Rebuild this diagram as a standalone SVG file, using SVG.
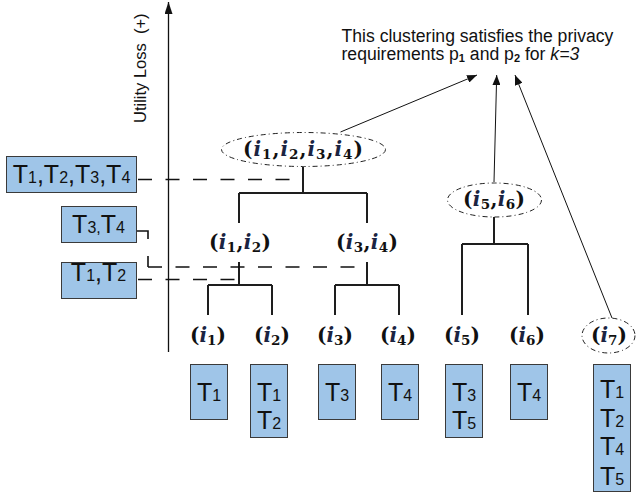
<svg xmlns="http://www.w3.org/2000/svg" width="640" height="497" viewBox="0 0 640 497">
<style>
.box{fill:#9fc5e8;stroke:#3a3a3a;stroke-width:1}
.bt{font-family:"Liberation Sans",Arial,sans-serif;font-size:25px;fill:#111}
.sm{font-size:16px}
.tree{fill:none;stroke:#1e1e1e;stroke-width:2}
.dash{fill:none;stroke:#111;stroke-width:1.6;stroke-dasharray:14 13.5}
.solid{fill:none;stroke:#111;stroke-width:1.6}
.ell{fill:none;stroke:#222;stroke-width:1;stroke-dasharray:5 3 1 3}
.lbl{font-family:"DejaVu Serif","Liberation Serif",serif;font-weight:bold;font-size:20px;fill:#111}
.iv{font-style:italic;fill:#1b2442}
.sb{font-size:13.5px}
.ann{font-family:"Liberation Sans",Arial,sans-serif;fill:#111}
.thin{fill:none;stroke:#111;stroke-width:1}
</style>
<defs>
<marker id="ah" viewBox="0 0 10 8" refX="10" refY="4" markerWidth="10" markerHeight="8" markerUnits="userSpaceOnUse" orient="auto">
<path d="M0,0 L10,4 L0,8 z" fill="#111"/>
</marker>
<marker id="axh" viewBox="0 0 12 8" refX="12" refY="4" markerWidth="12" markerHeight="8" markerUnits="userSpaceOnUse" orient="auto">
<path d="M0,0 L12,4 L0,8 z" fill="#111"/>
</marker>
</defs>
<rect width="640" height="497" fill="#fff"/>

<!-- axis -->
<g id="axis">
<line x1="168.5" y1="352" x2="168.5" y2="2" stroke="#111" stroke-width="1.3" marker-end="url(#axh)"/>
<text class="ann" font-size="16.5" transform="translate(145.5,123) rotate(-90)" xml:space="preserve">Utility Loss  (+)</text>
</g>

<!-- annotation -->
<g id="annotation">
<text class="ann" font-size="17.6" x="341.5" y="41.5">This clustering satisfies the privacy</text>
<text class="ann" font-size="17.6" x="341.5" y="60">requirements p<tspan font-size="11" font-weight="bold" dy="2">1</tspan><tspan dy="-2"> and p</tspan><tspan font-size="11" font-weight="bold" dy="2">2</tspan><tspan dy="-2"> for </tspan><tspan font-style="italic">k=3</tspan></text>
</g>

<!-- connectors -->
<g id="connectors">
<path class="tree" d="M303,167 V193 M239,193 H367 M239,193 V223 M367,193 V223"/>
<path class="tree" d="M239,262 V285 M208,285 H272 M208,285 V315 M272,285 V315"/>
<path class="tree" d="M367,262 V285 M335,285 H399 M335,285 V315 M399,285 V315"/>
<path class="tree" d="M494,217 V244 M462,244 H528 M462,244 V315 M528,244 V315"/>
<path class="dash" d="M138,179.5 H302"/>
<path class="dash" d="M138,279.5 H240"/>
<path class="solid" d="M137,231 H148 V239 M148,256 V267"/>
<path class="dash" stroke-dasharray="15 13" d="M148,267 H367"/>
<line class="thin" x1="340.5" y1="132" x2="477" y2="75" marker-end="url(#ah)"/>
<line class="thin" x1="494" y1="182" x2="496.7" y2="75" marker-end="url(#ah)"/>
<line class="thin" x1="612" y1="318" x2="515" y2="75" marker-end="url(#ah)"/>
</g>

<!-- left boxes -->
<g id="box-t1234">
<rect class="box" x="6.5" y="156.5" width="130" height="36"/>
<text class="bt" x="71.5" y="183" text-anchor="middle">T<tspan class="sm">1</tspan>,T<tspan class="sm">2</tspan>,T<tspan class="sm">3</tspan>,T<tspan class="sm">4</tspan></text>
</g>
<g id="box-t34">
<rect class="box" x="61.5" y="206.5" width="75" height="36"/>
<text class="bt" x="98.5" y="233" text-anchor="middle">T<tspan class="sm">3,</tspan>T<tspan class="sm">4</tspan></text>
</g>
<g id="box-t12">
<rect class="box" x="61.5" y="262.5" width="75" height="36"/>
<text class="bt" x="98.5" y="280.5" text-anchor="middle">T<tspan class="sm">1</tspan>,T<tspan class="sm">2</tspan></text>
</g>

<!-- cluster nodes -->
<g id="node-i1234">
<ellipse class="ell" cx="303.5" cy="149.5" rx="82" ry="17"/>
<text class="lbl" x="303" y="156" text-anchor="middle" textLength="120" lengthAdjust="spacing">(<tspan class="iv">i</tspan><tspan class="sb" dy="3">1</tspan><tspan dy="-3">,</tspan><tspan class="iv">i</tspan><tspan class="sb" dy="3">2</tspan><tspan dy="-3">,</tspan><tspan class="iv">i</tspan><tspan class="sb" dy="3">3</tspan><tspan dy="-3">,</tspan><tspan class="iv">i</tspan><tspan class="sb" dy="3">4</tspan><tspan dy="-3">)</tspan></text>
</g>
<g id="node-i12">
<text class="lbl" x="240" y="249" text-anchor="middle" textLength="62" lengthAdjust="spacing">(<tspan class="iv">i</tspan><tspan class="sb" dy="3">1</tspan><tspan dy="-3">,</tspan><tspan class="iv">i</tspan><tspan class="sb" dy="3">2</tspan><tspan dy="-3">)</tspan></text>
</g>
<g id="node-i34">
<text class="lbl" x="367" y="249" text-anchor="middle" textLength="62" lengthAdjust="spacing">(<tspan class="iv">i</tspan><tspan class="sb" dy="3">3</tspan><tspan dy="-3">,</tspan><tspan class="iv">i</tspan><tspan class="sb" dy="3">4</tspan><tspan dy="-3">)</tspan></text>
</g>
<g id="node-i56">
<ellipse class="ell" cx="494.5" cy="200" rx="47" ry="17"/>
<text class="lbl" x="494" y="206" text-anchor="middle" textLength="62" lengthAdjust="spacing">(<tspan class="iv">i</tspan><tspan class="sb" dy="3">5</tspan><tspan dy="-3">,</tspan><tspan class="iv">i</tspan><tspan class="sb" dy="3">6</tspan><tspan dy="-3">)</tspan></text>
</g>

<!-- leaves -->
<g id="leaf-i1">
<text class="lbl" x="208" y="342" text-anchor="middle">(<tspan class="iv">i</tspan><tspan class="sb" dy="3">1</tspan><tspan dy="-3">)</tspan></text>
<rect class="box" x="190.5" y="364.5" width="37" height="55"/>
<text class="bt" x="209" y="401" text-anchor="middle">T<tspan class="sm">1</tspan></text>
</g>
<g id="leaf-i2">
<text class="lbl" x="272" y="342" text-anchor="middle">(<tspan class="iv">i</tspan><tspan class="sb" dy="3">2</tspan><tspan dy="-3">)</tspan></text>
<rect class="box" x="250.5" y="364.5" width="37" height="73"/>
<text class="bt" x="269" y="401" text-anchor="middle">T<tspan class="sm">1</tspan></text>
<text class="bt" x="269" y="429" text-anchor="middle">T<tspan class="sm">2</tspan></text>
</g>
<g id="leaf-i3">
<text class="lbl" x="335" y="342" text-anchor="middle">(<tspan class="iv">i</tspan><tspan class="sb" dy="3">3</tspan><tspan dy="-3">)</tspan></text>
<rect class="box" x="318.5" y="364.5" width="37" height="55"/>
<text class="bt" x="337" y="401" text-anchor="middle">T<tspan class="sm">3</tspan></text>
</g>
<g id="leaf-i4">
<text class="lbl" x="398" y="342" text-anchor="middle">(<tspan class="iv">i</tspan><tspan class="sb" dy="3">4</tspan><tspan dy="-3">)</tspan></text>
<rect class="box" x="381.5" y="364.5" width="37" height="55"/>
<text class="bt" x="400" y="401" text-anchor="middle">T<tspan class="sm">4</tspan></text>
</g>
<g id="leaf-i5">
<text class="lbl" x="462" y="342" text-anchor="middle">(<tspan class="iv">i</tspan><tspan class="sb" dy="3">5</tspan><tspan dy="-3">)</tspan></text>
<rect class="box" x="445.5" y="364.5" width="37" height="73"/>
<text class="bt" x="464" y="401" text-anchor="middle">T<tspan class="sm">3</tspan></text>
<text class="bt" x="464" y="429" text-anchor="middle">T<tspan class="sm">5</tspan></text>
</g>
<g id="leaf-i6">
<text class="lbl" x="527" y="342" text-anchor="middle">(<tspan class="iv">i</tspan><tspan class="sb" dy="3">6</tspan><tspan dy="-3">)</tspan></text>
<rect class="box" x="510.5" y="364.5" width="37" height="55"/>
<text class="bt" x="529" y="401" text-anchor="middle">T<tspan class="sm">4</tspan></text>
</g>
<g id="leaf-i7">
<ellipse class="ell" cx="608.5" cy="335.5" rx="26.5" ry="17.5"/>
<text class="lbl" x="609" y="342" text-anchor="middle">(<tspan class="iv">i</tspan><tspan class="sb" dy="3">7</tspan><tspan dy="-3">)</tspan></text>
<rect class="box" x="593.5" y="364.5" width="37" height="127"/>
<text class="bt" x="612" y="398" text-anchor="middle">T<tspan class="sm">1</tspan></text>
<text class="bt" x="612" y="427" text-anchor="middle">T<tspan class="sm">2</tspan></text>
<text class="bt" x="612" y="455" text-anchor="middle">T<tspan class="sm">4</tspan></text>
<text class="bt" x="612" y="485" text-anchor="middle">T<tspan class="sm">5</tspan></text>
</g>
</svg>
